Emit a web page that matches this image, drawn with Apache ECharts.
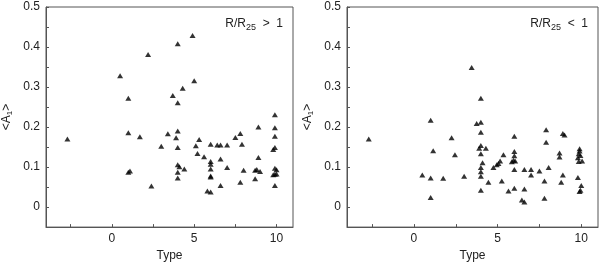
<!DOCTYPE html>
<html>
<head>
<meta charset="utf-8">
<script src="https://cdn.jsdelivr.net/npm/echarts@6/dist/echarts.min.js"></script>
<style>
html,body{margin:0;padding:0;background:#fff;}
#c{width:600px;height:267px;}
</style>
</head>
<body>
<div id="c"></div>
<script>
// Left panel: R/R25 > 1
var typeOuter = [-2.7,0.5,1.0,1.0,1.0,1.1,1.7,2.2,2.4,3.0,3.4,3.7,3.9,4.0,4.0,4.0,4.0,4.0,4.1,4.0,4.0,4.3,4.4,4.9,5.0,5.1,5.2,5.3,5.6,5.8,6.0,6.0,6.0,6.0,6.0,6.0,6.0,6.4,6.6,6.6,6.6,7.0,7.0,7.5,7.8,7.8,7.9,8.0,8.7,8.7,8.8,8.9,8.9,9.0,9.8,9.9,9.9,9.9,9.8,9.9,9.9,10.0,9.9,10.0,9.9];
var a1Outer = [0.170,0.328,0.272,0.186,0.087,0.090,0.176,0.381,0.053,0.152,0.183,0.279,0.173,0.408,0.261,0.190,0.149,0.106,0.101,0.087,0.073,0.297,0.095,0.429,0.316,0.153,0.134,0.169,0.126,0.040,0.038,0.157,0.114,0.107,0.095,0.078,0.075,0.155,0.155,0.120,0.054,0.155,0.099,0.174,0.184,0.062,0.157,0.092,0.071,0.092,0.094,0.200,0.124,0.089,0.081,0.231,0.198,0.177,0.144,0.149,0.097,0.093,0.082,0.083,0.054];
// Right panel: R/R25 < 1
var typeInner = [-2.7,0.5,1.0,1.0,1.0,1.15,1.75,2.25,2.45,3.0,3.45,3.75,4.0,4.0,4.0,4.0,3.9,4.0,4.1,4.0,4.0,4.0,4.0,4.3,4.45,4.75,4.95,5.05,5.15,5.25,5.35,5.65,5.85,6.0,6.0,6.0,5.95,6.05,6.0,6.0,6.45,6.6,6.6,6.6,7.0,7.0,7.5,7.8,7.8,7.9,7.9,8.05,8.7,8.7,8.8,8.9,8.9,9.0,9.8,9.9,9.9,9.85,9.95,9.8,9.85,10.05,10.0,9.9,9.95];
var a1Inner = [0.170,0.080,0.217,0.073,0.024,0.141,0.072,0.173,0.131,0.077,0.349,0.209,0.212,0.272,0.187,0.154,0.147,0.133,0.111,0.099,0.088,0.077,0.042,0.147,0.062,0.099,0.106,0.109,0.115,0.065,0.131,0.040,0.113,0.177,0.139,0.128,0.117,0.115,0.094,0.047,0.018,0.013,0.094,0.045,0.094,0.080,0.090,0.065,0.022,0.193,0.162,0.099,0.135,0.125,0.062,0.080,0.184,0.180,0.074,0.146,0.140,0.133,0.129,0.123,0.114,0.115,0.054,0.039,0.042];
var panelLabels = ['R/R{s|25}  >  1', 'R/R{s|25}  <  1'];
var xTickValues = [-2.5,0,2.5,5,7.5,10];
var xLabelValues = [0,5,10];
var yTickValues = [0,0.05,0.1,0.15,0.2,0.25,0.3,0.35,0.4,0.45,0.5];
var yLabelValues = [0,0.1,0.2,0.3,0.4,0.5];

function zip(a,b){ return a.map(function(v,i){ return [v,b[i]]; }); }

var FONT = 'Liberation Sans';
var axisColor = '#555';
var textColor = '#222';

function xAxis(idx){
  return {
    gridIndex: idx, type: 'value', min: -4, max: 11,
    name: 'Type', nameLocation: 'middle', nameGap: 22,
    nameTextStyle: {fontFamily: FONT, fontSize: 12, color: textColor},
    axisLine: {show: true, onZero: false, lineStyle: {color: axisColor, width: 1}},
    axisTick: {show: true, inside: true, length: 3, customValues: xTickValues, lineStyle: {color: axisColor}},
    axisLabel: {show: true, customValues: xLabelValues, margin: 6, fontFamily: FONT, fontSize: 12, color: textColor},
    splitLine: {show: false}
  };
}
function yAxis(idx){
  return {
    gridIndex: idx, type: 'value', min: -0.05, max: 0.5,
    name: '<A{s|1}>', nameLocation: 'middle', nameGap: 32, nameRotate: 90,
    nameTextStyle: {fontFamily: FONT, fontSize: 12, color: textColor,
      rich: {s: {fontFamily: FONT, fontSize: 8, color: textColor, padding: [6,0,0,0]}}},
    axisLine: {show: true, onZero: false, lineStyle: {color: axisColor, width: 1}},
    axisTick: {show: true, inside: true, length: 3, customValues: yTickValues, lineStyle: {color: axisColor}},
    axisLabel: {show: true, customValues: yLabelValues, margin: 6, fontFamily: FONT, fontSize: 12, color: textColor,
      formatter: function(v){ return v === 0 ? '0' : v.toFixed(1); }},
    splitLine: {show: false}
  };
}

var chart = echarts.init(document.getElementById('c'), null, {renderer: 'canvas'});
chart.setOption({
  animation: false,
  backgroundColor: '#fff',
  grid: [
    {left: 42, top: 7, width: 251, height: 222, show: true, borderColor: axisColor, borderWidth: 1, backgroundColor: 'transparent'},
    {left: 347, top: 7, width: 251, height: 222, show: true, borderColor: axisColor, borderWidth: 1, backgroundColor: 'transparent'}
  ],
  xAxis: [xAxis(0), xAxis(1)],
  yAxis: [yAxis(0), yAxis(1)],
  graphic: [
    {type: 'text', right: 600 - 283, top: 18, style: {text: panelLabels[0], fontFamily: FONT, fontSize: 12, fill: textColor,
      rich: {s: {fontFamily: FONT, fontSize: 9, fill: textColor, padding: [7,0,0,0]}}}},
    {type: 'text', right: 600 - 588, top: 18, style: {text: panelLabels[1], fontFamily: FONT, fontSize: 12, fill: textColor,
      rich: {s: {fontFamily: FONT, fontSize: 9, fill: textColor, padding: [7,0,0,0]}}}}
  ],
  series: [
    {type: 'scatter', xAxisIndex: 0, yAxisIndex: 0, symbol: 'triangle', symbolSize: [6,5],
     itemStyle: {color: '#000'}, data: zip(typeOuter, a1Outer)},
    {type: 'scatter', xAxisIndex: 1, yAxisIndex: 1, symbol: 'triangle', symbolSize: [6,5],
     itemStyle: {color: '#000'}, data: zip(typeInner, a1Inner)}
  ]
});
</script>
</body>
</html>
